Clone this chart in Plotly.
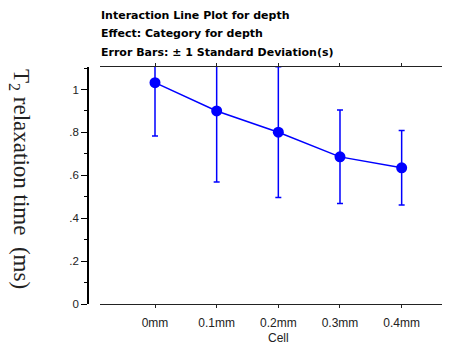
import plotly.graph_objects as go

categories = ["0mm", "0.1mm", "0.2mm", "0.3mm", "0.4mm"]
means = [1.032, 0.900, 0.801, 0.686, 0.635]
sds = [0.249, 0.331, 0.305, 0.218, 0.174]
ytick_vals = [0, 0.2, 0.4, 0.6, 0.8, 1.0]
ytick_text = ["0", ".2", ".4", ".6", ".8", "1"]
title_lines = [
    "Interaction Line Plot for depth",
    "Effect: Category for depth",
    "Error Bars: \u00b1 1 Standard Deviation(s)",
]

BLUE = "#0000FF"
AXC = "#222222"

# page body has an 8px margin, so the figure is drawn 8px smaller and offset
W, H = 442, 336
fig = go.Figure()
fig.add_trace(go.Scatter(
    x=categories, y=means, mode="lines+markers",
    line=dict(color=BLUE, width=1.5),
    marker=dict(color=BLUE, size=11),
    error_y=dict(type="data", array=sds, visible=True, color=BLUE,
                 thickness=1.5, width=3),
    showlegend=False,
))

fig.update_layout(
    width=W, height=H,
    margin=dict(l=80, r=0, t=59, b=40),
    paper_bgcolor="white", plot_bgcolor="white",
    font=dict(family="Liberation Sans, Arial, sans-serif", color="black"),
    xaxis=dict(
        type="category", range=[-0.892, 4.784], domain=[12 / 362, 1],
        showgrid=False, zeroline=False,
        showline=True, linecolor=AXC, linewidth=1, mirror="ticks",
        ticks="outside", ticklen=3, tickcolor=AXC, tickwidth=1,
        ticklabelstandoff=5,
        tickfont=dict(size=12, color="#222222"),
    ),
    yaxis=dict(
        range=[0, 1.105], anchor="free", position=0,
        showgrid=False, zeroline=False,
        showline=True, linecolor="black", linewidth=1.5,
        tickmode="array", tickvals=ytick_vals, ticktext=ytick_text,
        ticks="outside", ticklen=6, tickcolor="black", tickwidth=1,
        tickfont=dict(size=11.5, color="#222222"),
        minor=dict(tickmode="linear", tick0=0.1, dtick=0.2, ticks="outside",
                   ticklen=3, tickcolor="black", tickwidth=1),
    ),
)

for i, t in enumerate(title_lines):
    fig.add_annotation(
        text="<b>" + t + "</b>", xref="x domain", yref="paper",
        x=-0.003, y=(304 - (16 + 18 * i)) / 237, xanchor="left", yanchor="middle",
        showarrow=False,
        font=dict(family="DejaVu Sans, sans-serif", size=11, color="black"),
    )

fig.add_annotation(
    text="Cell", xref="x", yref="paper", x=2, y=(304 - 338) / 237,
    xanchor="center", yanchor="middle", showarrow=False,
    font=dict(size=12, color="#222222"),
)

fig.add_annotation(
    text="T<sub>2</sub> relaxation time&nbsp; (ms)", xref="paper", yref="paper",
    x=(20 - 88) / 362, y=(304 - 179) / 237, xanchor="center", yanchor="middle",
    textangle=90, showarrow=False,
    font=dict(family="Liberation Serif, Times New Roman, serif", size=23, color="#222222"),
)

fig.write_html("out.html")
